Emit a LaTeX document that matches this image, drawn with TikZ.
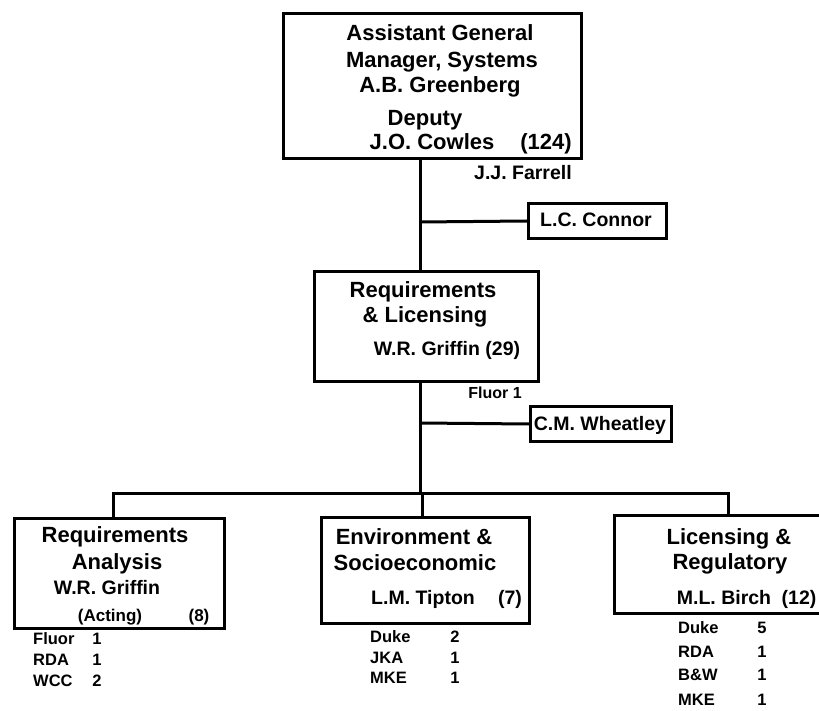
\documentclass[tikz,border=0pt]{standalone}
\usepackage{fontspec}
\setmainfont{Liberation Sans}
\begin{document}
\begin{tikzpicture}[x=1pt,y=-1pt,
  box/.style={draw=black,line width=3pt,inner sep=0pt,anchor=north west},
  conn/.style={draw=black,line width=3pt},
  big/.style={font=\fontsize{22}{24}\selectfont\bfseries,inner sep=0pt,text height=15.8pt,text depth=0pt},
  nm/.style={font=\fontsize{19.5}{22}\selectfont\bfseries,inner sep=0pt,text height=14pt,text depth=0pt},
  mid/.style={font=\fontsize{17}{19}\selectfont\bfseries,inner sep=0pt,text height=12.2pt,text depth=0pt},
  small/.style={font=\fontsize{16.5}{18}\selectfont\bfseries,inner sep=0pt,text height=11.9pt,text depth=0pt},
  sub/.style={small,anchor=west}]
\useasboundingbox (0,0) rectangle (819,711);
\clip (0,0) rectangle (819,711);
\fill[white] (0,0) rectangle (819,711);
% boxes
\node[box,minimum width=298pt,minimum height=145pt] (agm) at (282,12) {};
\node[box,minimum width=138pt,minimum height=35pt] (lcc) at (527,202) {};
\node[box,minimum width=224pt,minimum height=110pt] (rl) at (313,270) {};
\node[box,minimum width=141pt,minimum height=35pt] (cmw) at (529,405) {};
\node[box,minimum width=210pt,minimum height=110pt] (ra) at (13,517) {};
\node[box,minimum width=208pt,minimum height=106pt] (es) at (320,516) {};
\node[box,minimum width=230pt,minimum height=98pt] (lr) at (613,514) {};
% top box text
\node[big] (t1) at (440,33) {Assistant General};
\node[big] (t2) at (442,60) {Manager, Systems};
\node[big] (t3) at (440,85) {A.B. Greenberg};
\node[big] (t4) at (425,118) {Deputy};
\node[big] (t5) at (432,142) {J.O. Cowles};
\node[big] (t6) at (546,142) {(124)};
\node[nm] (jjf) at (523,173) {J.J. Farrell};
\node[nm] (lcct) at (596,220) {L.C. Connor};
% middle
\node[big] (m1) at (423,290) {Requirements};
\node[big] (m2) at (425,315) {\& Licensing};
\node[nm] (m3) at (447,348) {W.R. Griffin (29)};
\node[small,font=\fontsize{16}{18}\selectfont\bfseries] (fl1) at (495,393) {Fluor 1};
\node[nm] (cmwt) at (600,423) {C.M. Wheatley};
% left box
\node[big] (a1) at (115,535) {Requirements};
\node[big] (a2) at (117,562) {Analysis};
\node[nm] (a3) at (107,587) {W.R. Griffin};
\node[mid] (a4) at (110,615) {(Acting)};
\node[mid] (a5) at (199,615) {(8)};
\node[sub] (s1) at (33,639) {Fluor};
\node[sub] (s2) at (33,660) {RDA};
\node[sub] (s3) at (33,681) {WCC};
\node[small] (n1) at (97,639) {1};
\node[small] (n2) at (97,660) {1};
\node[small] (n3) at (97,681) {2};
% middle bottom
\node[big] (e1) at (414,537) {Environment \&};
\node[big] (e2) at (415,563) {Socioeconomic};
\node[nm] (e3) at (423,597) {L.M. Tipton};
\node[nm] (e4) at (510,597) {(7)};
\node[sub] (d1) at (370,637) {Duke};
\node[sub] (d2) at (370,658) {JKA};
\node[sub] (d3) at (370,678) {MKE};
\node[small] (k1) at (455,637) {2};
\node[small] (k2) at (455,658) {1};
\node[small] (k3) at (455,678) {1};
% right box
\node[big] (r1) at (729,537) {Licensing \&};
\node[big] (r2) at (730,562) {Regulatory};
\node[nm] (r3) at (724,597) {M.L. Birch};
\node[nm] (r4) at (799,597) {(12)};
\node[sub] (q1) at (678,628) {Duke};
\node[sub] (q2) at (678,652) {RDA};
\node[sub] (q3) at (678,675) {B\&W};
\node[sub] (q4) at (678,700) {MKE};
\node[small] (p1) at (762,628) {5};
\node[small] (p2) at (762,652) {1};
\node[small] (p3) at (762,675) {1};
\node[small] (p4) at (762,700) {1};
% connectors
\coordinate (j1) at (420,222);
\coordinate (j2) at (420,423);
\coordinate (bar) at (420,493);
\coordinate (bl) at (113,493);
\coordinate (bm) at (422,493);
\coordinate (br) at (728,493);
\draw[conn] (agm.south -| j1) -- (rl.north -| j1);
\draw[conn] (j1) -- (lcc.west);
\draw[conn] (rl.south -| j2) -- (bar);
\draw[conn] (j2) -- (cmw.west);
\draw[conn,line join=miter] (ra.north -| bl) -- (bl) -- (br) -- (lr.north -| br);
\draw[conn] (bm) -- (es.north -| bm);
\end{tikzpicture}
\end{document}
